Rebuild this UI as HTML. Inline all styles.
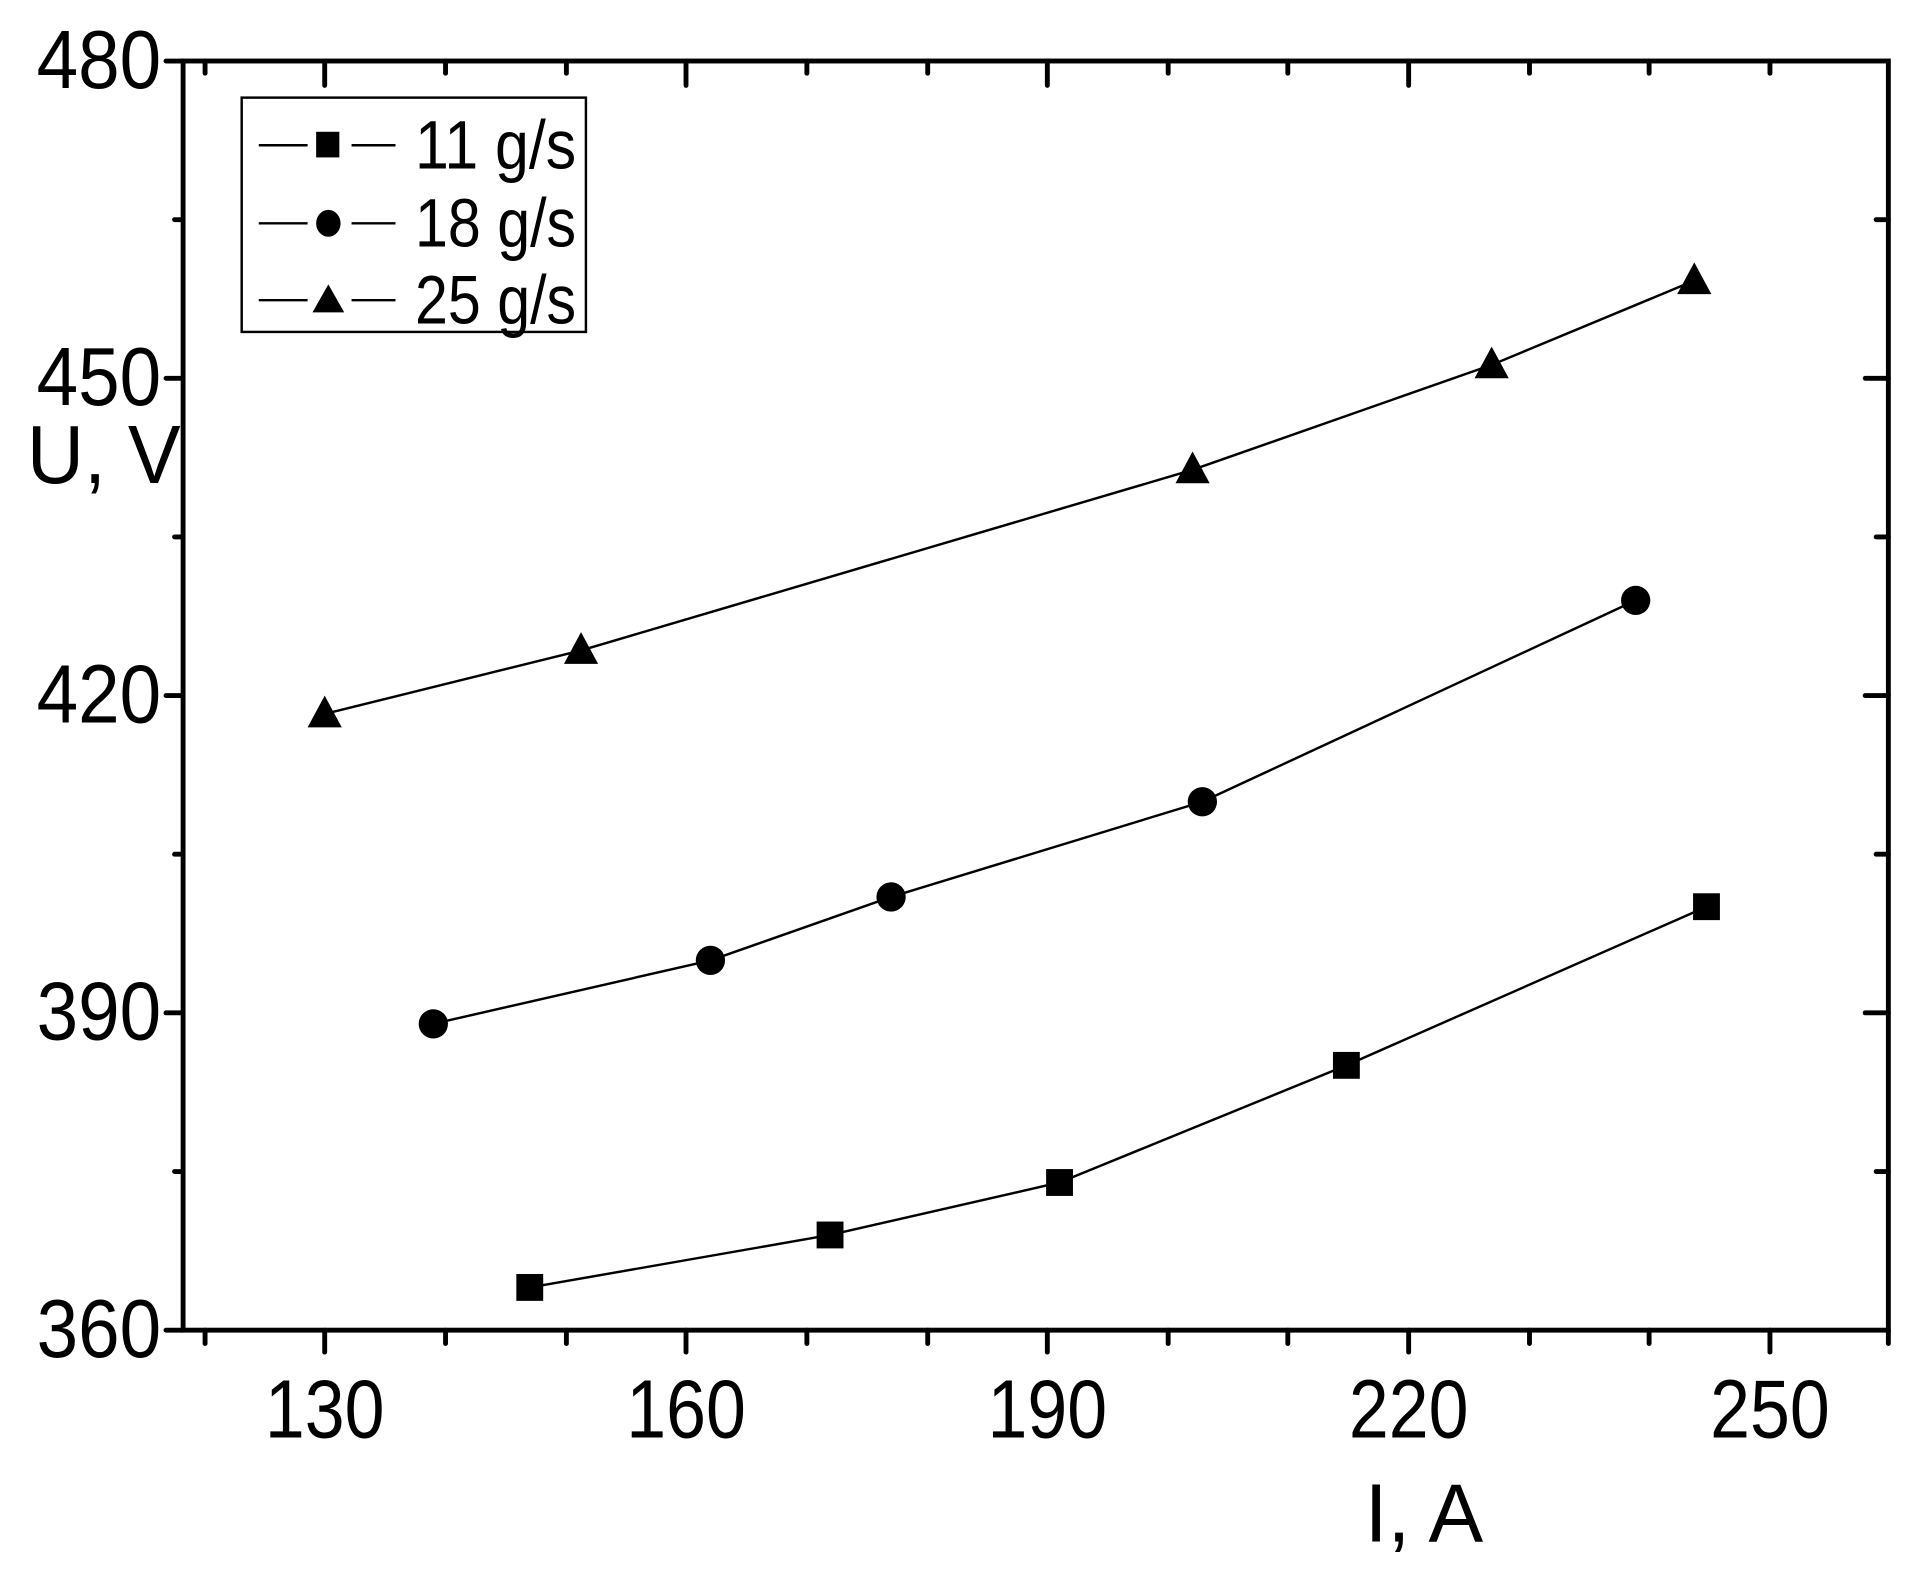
<!DOCTYPE html>
<html><head><meta charset="utf-8"><style>
html,body{margin:0;padding:0;background:#fff;}
svg{display:block;}
text{font-family:"Liberation Sans",Arial,sans-serif;fill:#000;}
</style></head><body>
<svg width="1914" height="1573" viewBox="0 0 1568 1289" preserveAspectRatio="none">
<rect x="0" y="0" width="1568" height="1289" fill="#fff"/>
<g stroke="#000" stroke-width="4" fill="none" stroke-linecap="round">
<rect x="150" y="50" width="1397" height="1040"/>
<line x1="150" y1="50" x2="136" y2="50"/><line x1="150" y1="310" x2="136" y2="310"/>
<line x1="150" y1="570" x2="136" y2="570"/><line x1="150" y1="830" x2="136" y2="830"/>
<line x1="150" y1="1090" x2="136" y2="1090"/>
<line x1="150" y1="180" x2="143" y2="180"/><line x1="150" y1="440" x2="143" y2="440"/>
<line x1="150" y1="700" x2="143" y2="700"/><line x1="150" y1="960" x2="143" y2="960"/>
<line x1="1547" y1="310" x2="1528" y2="310"/><line x1="1547" y1="570" x2="1528" y2="570"/>
<line x1="1547" y1="830" x2="1528" y2="830"/>
<line x1="1547" y1="180" x2="1537" y2="180"/><line x1="1547" y1="440" x2="1537" y2="440"/>
<line x1="1547" y1="700" x2="1537" y2="700"/><line x1="1547" y1="960" x2="1537" y2="960"/>
<line x1="168" y1="1090" x2="168" y2="1101"/><line x1="168" y1="50" x2="168" y2="60"/>
<line x1="266" y1="1090" x2="266" y2="1108"/><line x1="266" y1="50" x2="266" y2="70"/>
<line x1="365" y1="1090" x2="365" y2="1101"/><line x1="365" y1="50" x2="365" y2="60"/>
<line x1="464" y1="1090" x2="464" y2="1101"/><line x1="464" y1="50" x2="464" y2="60"/>
<line x1="562" y1="1090" x2="562" y2="1108"/><line x1="562" y1="50" x2="562" y2="70"/>
<line x1="661" y1="1090" x2="661" y2="1101"/><line x1="661" y1="50" x2="661" y2="60"/>
<line x1="760" y1="1090" x2="760" y2="1101"/><line x1="760" y1="50" x2="760" y2="60"/>
<line x1="858" y1="1090" x2="858" y2="1108"/><line x1="858" y1="50" x2="858" y2="70"/>
<line x1="957" y1="1090" x2="957" y2="1101"/><line x1="957" y1="50" x2="957" y2="60"/>
<line x1="1055" y1="1090" x2="1055" y2="1101"/><line x1="1055" y1="50" x2="1055" y2="60"/>
<line x1="1154" y1="1090" x2="1154" y2="1108"/><line x1="1154" y1="50" x2="1154" y2="70"/>
<line x1="1253" y1="1090" x2="1253" y2="1101"/><line x1="1253" y1="50" x2="1253" y2="60"/>
<line x1="1351" y1="1090" x2="1351" y2="1101"/><line x1="1351" y1="50" x2="1351" y2="60"/>
<line x1="1450" y1="1090" x2="1450" y2="1108"/><line x1="1450" y1="50" x2="1450" y2="60"/>
<line x1="1547" y1="1090" x2="1547" y2="1101"/>
</g>
<g font-size="68">
<text x="30" y="72" textLength="102" lengthAdjust="spacingAndGlyphs">480</text>
<text x="30" y="332" textLength="102" lengthAdjust="spacingAndGlyphs">450</text>
<text x="30" y="592" textLength="102" lengthAdjust="spacingAndGlyphs">420</text>
<text x="30" y="852" textLength="102" lengthAdjust="spacingAndGlyphs">390</text>
<text x="30" y="1112" textLength="102" lengthAdjust="spacingAndGlyphs">360</text>
<text x="217" y="1178" textLength="98" lengthAdjust="spacingAndGlyphs">130</text>
<text x="513" y="1178" textLength="98" lengthAdjust="spacingAndGlyphs">160</text>
<text x="809" y="1178" textLength="98" lengthAdjust="spacingAndGlyphs">190</text>
<text x="1105" y="1178" textLength="98" lengthAdjust="spacingAndGlyphs">220</text>
<text x="1401" y="1178" textLength="98" lengthAdjust="spacingAndGlyphs">250</text>
<text x="22" y="396" textLength="126" lengthAdjust="spacingAndGlyphs">U, V</text>
<text x="1118" y="1263" textLength="97" lengthAdjust="spacingAndGlyphs">I, A</text>
</g>
<g stroke="#000" stroke-width="2" fill="none">
<polyline points="266,585 476,533 977,385 1222,299 1388,230"/>
<polyline points="355,839 582,787 730,735 985,657 1340,492"/>
<polyline points="434,1055 680,1012 868,969 1103,873 1398,743"/>
</g>
<g fill="#000">
<polygon points="266,570 280,596 252,596"/><polygon points="476,518 490,544 462,544"/>
<polygon points="977,370 991,396 963,396"/><polygon points="1222,284 1236,310 1208,310"/>
<polygon points="1388,215 1402,241 1374,241"/>
<ellipse cx="355" cy="839" rx="12" ry="12"/><ellipse cx="582" cy="787" rx="12" ry="12"/>
<ellipse cx="730" cy="735" rx="12" ry="12"/><ellipse cx="985" cy="657" rx="12" ry="12"/>
<ellipse cx="1340" cy="492" rx="12" ry="12"/>
<rect x="423" y="1044" width="22" height="22"/><rect x="669" y="1001" width="22" height="22"/>
<rect x="857" y="958" width="22" height="22"/><rect x="1092" y="862" width="22" height="22"/>
<rect x="1387" y="732" width="22" height="22"/>
</g>
<rect x="198" y="80" width="282" height="192" fill="#fff" stroke="#000" stroke-width="2"/>
<g stroke="#000" stroke-width="2">
<line x1="212" y1="119" x2="252" y2="119"/><line x1="288" y1="119" x2="324" y2="119"/>
<line x1="212" y1="183" x2="252" y2="183"/><line x1="288" y1="183" x2="324" y2="183"/>
<line x1="212" y1="246" x2="252" y2="246"/><line x1="288" y1="246" x2="324" y2="246"/>
</g>
<g fill="#000">
<rect x="259" y="108" width="19" height="21"/>
<ellipse cx="269" cy="183" rx="10" ry="11"/>
<polygon points="269,233 282,256 256,256"/>
</g>
<g font-size="56">
<text x="340" y="138" textLength="132" lengthAdjust="spacingAndGlyphs">11 g/s</text>
<text x="340" y="202" textLength="132" lengthAdjust="spacingAndGlyphs">18 g/s</text>
<text x="340" y="265" textLength="132" lengthAdjust="spacingAndGlyphs">25 g/s</text>
</g>
</svg>
</body></html>
